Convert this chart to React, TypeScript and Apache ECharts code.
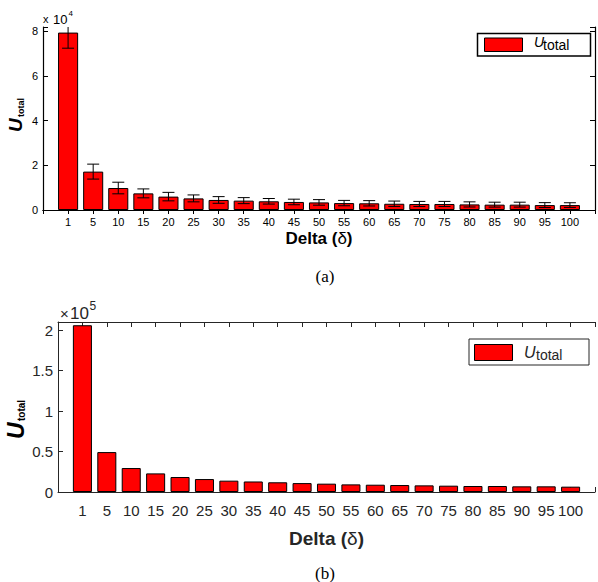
import React, { useEffect, useRef } from "react";
import * as echarts from "echarts";

const categories = ["1", "5", "10", "15", "20", "25", "30", "35", "40", "45", "50", "55", "60", "65", "70", "75", "80", "85", "90", "95", "100"];
const topValues = [79500, 17200, 9850, 7450, 6000, 5200, 4500, 4200, 3900, 3600, 3400, 3100, 3000, 2800, 2700, 2700, 2500, 2400, 2400, 2200, 2200];
const topErrors = [7000, 3350, 2600, 2000, 1900, 1550, 1500, 1350, 1250, 1250, 1250, 1200, 1200, 1200, 1150, 1150, 1150, 1100, 1100, 1100, 1050];
const bottomValues = [206000, 49300, 29600, 23000, 18500, 16000, 14000, 13000, 12000, 11000, 10300, 9400, 9000, 8600, 8200, 7800, 7400, 7400, 7000, 7000, 6600];
const topYMax = 82000;
const topYStep = 20000;
const bottomYMax = 210000;
const bottomYStep = 50000;

const FONT = "Liberation Sans";

export default function App() {
  const ref = useRef<HTMLDivElement>(null);
  useEffect(() => {
    if (!ref.current) return;
    const chart = echarts.init(ref.current, undefined, { renderer: "svg" });
    const xData = ["", ...categories, ""];
    const padBars = (vals: number[]) => ["-", ...vals, "-"];
    const errData = topValues.map((v, i) => [i + 1, v, topErrors[i]]);

    const topAxisLine = { lineStyle: { color: "#000", width: 1.2 } };
    const botAxisLine = { lineStyle: { color: "#262626", width: 1 } };

    const option: any = {
      animation: false,
      backgroundColor: "#fff",
      grid: [
        { left: 43, right: 1, top: 27, height: 183 },
        { left: 58, right: -7, top: 322, height: 170 },
      ],
      xAxis: [
        {
          gridIndex: 0, type: "category", data: xData, boundaryGap: false, position: "bottom",
          axisLine: topAxisLine,
          axisTick: { inside: true, length: 4, interval: 0, lineStyle: { color: "#000" } },
          axisLabel: { interval: 0, fontSize: 11, color: "#000", margin: 6, fontFamily: FONT },
          name: "{b|Delta (}{d|δ}{b|)}", nameLocation: "middle", nameGap: 20,
          nameTextStyle: {
            rich: {
              b: { fontSize: 17, fontWeight: "bold", color: "#000", fontFamily: FONT },
              d: { fontSize: 17, color: "#000", fontFamily: FONT },
            },
          },
        },
        {
          gridIndex: 0, type: "category", data: xData, boundaryGap: false, position: "top",
          axisLine: topAxisLine,
          axisTick: { inside: true, length: 4, interval: 0, lineStyle: { color: "#000" } },
          axisLabel: { show: false },
        },
        {
          gridIndex: 1, type: "category", data: xData, boundaryGap: false, position: "bottom",
          axisLine: botAxisLine,
          axisTick: { inside: true, length: 5, interval: 0, lineStyle: { color: "#262626" } },
          axisLabel: { interval: 0, fontSize: 15, color: "#262626", margin: 11, fontFamily: FONT },
          name: "{b|Delta (}{d|δ}{b|)}", nameLocation: "middle", nameGap: 37,
          nameTextStyle: {
            rich: {
              b: { fontSize: 19, fontWeight: "bold", color: "#262626", fontFamily: FONT },
              d: { fontSize: 19, color: "#262626", fontFamily: FONT },
            },
          },
        },
        {
          gridIndex: 1, type: "category", data: xData, boundaryGap: false, position: "top",
          axisLine: botAxisLine,
          axisTick: { inside: true, length: 5, interval: 0, lineStyle: { color: "#262626" } },
          axisLabel: { show: false },
        },
      ],
      yAxis: [
        {
          gridIndex: 0, type: "value", min: 0, max: topYMax, interval: topYStep, position: "left",
          axisLine: { show: true, ...topAxisLine },
          axisTick: { show: true, inside: true, length: 5, lineStyle: { color: "#000" } },
          splitLine: { show: false },
          axisLabel: {
            fontSize: 11, color: "#000", margin: 5, fontFamily: FONT,
            formatter: (v: number) => (v % topYStep === 0 ? String(v / 10000) : ""),
          },
        },
        {
          gridIndex: 0, type: "value", min: 0, max: topYMax, interval: topYStep, position: "right",
          axisLine: { show: true, ...topAxisLine },
          axisTick: { show: true, inside: true, length: 5, lineStyle: { color: "#000" } },
          splitLine: { show: false },
          axisLabel: { show: false },
        },
        {
          gridIndex: 1, type: "value", min: 0, max: bottomYMax, interval: bottomYStep, position: "left",
          axisLine: { show: true, ...botAxisLine },
          axisTick: { show: true, inside: true, length: 5, lineStyle: { color: "#262626" } },
          splitLine: { show: false },
          axisLabel: {
            fontSize: 15, color: "#262626", margin: 5, fontFamily: FONT,
            formatter: (v: number) => (v % bottomYStep === 0 ? String(v / 100000) : ""),
          },
        },
      ],
      series: [
        {
          type: "bar", xAxisIndex: 0, yAxisIndex: 0, data: padBars(topValues), barWidth: "80%",
          itemStyle: { color: "#ff0000", borderColor: "#000", borderWidth: 1 },
        },
        {
          type: "custom", xAxisIndex: 0, yAxisIndex: 0, data: errData, clip: true, z: 5,
          encode: { x: 0, y: 1 },
          renderItem: (_params: any, api: any) => {
            const idx = api.value(0);
            const v = api.value(1);
            const e = api.value(2);
            const hi = api.coord([idx, v + e]);
            const lo = api.coord([idx, v - e]);
            const w = 6;
            const st = { stroke: "#000", lineWidth: 1 };
            return {
              type: "group",
              children: [
                { type: "line", shape: { x1: hi[0], y1: hi[1], x2: lo[0], y2: lo[1] }, style: st },
                { type: "line", shape: { x1: hi[0] - w, y1: hi[1], x2: hi[0] + w, y2: hi[1] }, style: st },
                { type: "line", shape: { x1: lo[0] - w, y1: lo[1], x2: lo[0] + w, y2: lo[1] }, style: st },
              ],
            };
          },
        },
        {
          type: "bar", xAxisIndex: 2, yAxisIndex: 2, data: padBars(bottomValues), barWidth: "78%",
          itemStyle: { color: "#ff0000", borderColor: "#000", borderWidth: 1 },
        },
      ],
      graphic: [
        // top exponent
        { type: "text", x: 43, y: 19, style: { text: "x", font: `11px ${FONT}`, fill: "#000", verticalAlign: "middle" } },
        { type: "text", x: 53, y: 19, style: { text: "10", font: `13px ${FONT}`, fill: "#000", verticalAlign: "middle" } },
        { type: "text", x: 68.5, y: 13.5, style: { text: "4", font: `8px ${FONT}`, fill: "#000", verticalAlign: "middle" } },
        // bottom exponent
        { type: "text", x: 60, y: 313, style: { text: "×", font: `15px ${FONT}`, fill: "#262626", verticalAlign: "middle" } },
        { type: "text", x: 70, y: 313, style: { text: "10", font: `17px ${FONT}`, fill: "#262626", verticalAlign: "middle" } },
        { type: "text", x: 89.5, y: 306, style: { text: "5", font: `12px ${FONT}`, fill: "#262626", verticalAlign: "middle" } },
        // top y name
        { type: "text", x: 15.5, y: 132, rotation: Math.PI / 2, style: { text: "U", font: `italic bold 19px ${FONT}`, fill: "#000", align: "left", verticalAlign: "middle" } },
        { type: "text", x: 20.5, y: 117, rotation: Math.PI / 2, style: { text: "total", font: `bold 9px ${FONT}`, fill: "#000", align: "left", verticalAlign: "middle" } },
        // bottom y name
        { type: "text", x: 15.5, y: 439, rotation: Math.PI / 2, style: { text: "U", font: `italic bold 23px ${FONT}`, fill: "#000", align: "left", verticalAlign: "middle" } },
        { type: "text", x: 21, y: 421, rotation: Math.PI / 2, style: { text: "total", font: `bold 10px ${FONT}`, fill: "#000", align: "left", verticalAlign: "middle" } },
        // top legend
        { type: "rect", shape: { x: 477.5, y: 33.5, width: 113, height: 22.5 }, style: { fill: "#fff", stroke: "#000", lineWidth: 1.5 }, z: 10 },
        { type: "rect", shape: { x: 484.5, y: 38, width: 38, height: 13.5 }, style: { fill: "#ff0000", stroke: "#000", lineWidth: 1 }, z: 11 },
        { type: "text", x: 534, y: 49, style: { text: "U", font: `italic 14px ${FONT}`, fill: "#000", verticalAlign: "bottom" }, z: 11 },
        { type: "text", x: 543, y: 52, style: { text: "total", font: `14px ${FONT}`, fill: "#000", verticalAlign: "bottom" }, z: 11 },
        // bottom legend
        { type: "rect", shape: { x: 469, y: 339, width: 120, height: 26 }, style: { fill: "#fff", stroke: "#262626", lineWidth: 1 }, z: 10 },
        { type: "rect", shape: { x: 474.5, y: 344.5, width: 38, height: 16 }, style: { fill: "#ff0000", stroke: "#000", lineWidth: 1 }, z: 11 },
        { type: "text", x: 524, y: 360, style: { text: "U", font: `italic 16px ${FONT}`, fill: "#262626", verticalAlign: "bottom" }, z: 11 },
        { type: "text", x: 536, y: 362, style: { text: "total", font: `14px ${FONT}`, fill: "#262626", verticalAlign: "bottom" }, z: 11 },
        // captions
        { type: "text", x: 325, y: 276, style: { text: "(a)", font: `17px Liberation Serif`, fill: "#000", align: "center", verticalAlign: "middle" } },
        { type: "text", x: 325, y: 573, style: { text: "(b)", font: `17px Liberation Serif`, fill: "#000", align: "center", verticalAlign: "middle" } },
      ],
    };
    chart.setOption(option);
    return () => chart.dispose();
  }, []);
  return (
    <div
      ref={ref}
      style={{ position: "absolute", left: 0, top: 0, width: 598, height: 582, background: "#fff" }}
    />
  );
}
